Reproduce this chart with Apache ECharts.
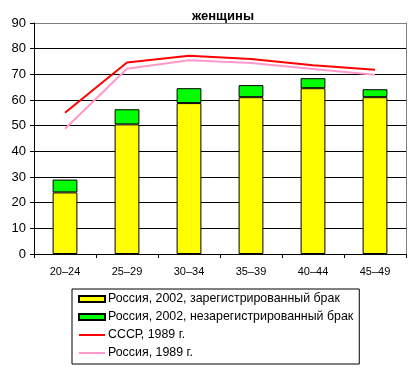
<!DOCTYPE html>
<html><head><meta charset="utf-8">
<script src="https://cdn.jsdelivr.net/npm/echarts@6/dist/echarts.min.js"></script>
<style>html,body{margin:0;padding:0;background:#fff}#c{width:420px;height:370px}</style>
</head><body><div id="c"></div>
<script>
var categories = ['20–24','25–29','30–34','35–39','40–44','45–49'];
var registered2002 = [24, 50.5, 58.8, 61.1, 64.6, 61.1];
var unregistered2002 = [5.0, 5.9, 5.8, 4.7, 3.9, 3.1];
var ussr1989 = [55, 74.6, 77.2, 76.0, 73.5, 71.8];
var russia1989 = [48.8, 72.2, 75.5, 74.4, 72.1, 69.8];
var yTicks = [0, 10, 20, 30, 40, 50, 60, 70, 80, 90];

var font = 'Liberation Sans, Arial, sans-serif';
var gridColors = yTicks.map(function (v, i) { return i === yTicks.length - 1 ? '#808080' : '#000'; });
var chart = echarts.init(document.getElementById('c'), null, {renderer: 'canvas'});
chart.setOption({
  backgroundColor: '#fff',
  animation: false,
  title: {text: 'женщины', left: 218, top: 5, textAlign: 'center',
    textStyle: {fontFamily: font, fontSize: 13, fontWeight: 'bold', color: '#000'}},
  grid: {left: 34, right: 14, top: 23, bottom: 116},
  legend: {
    orient: 'vertical', left: 72, top: 289,
    padding: [3, 6, 4, 6], itemGap: 4,
    borderColor: '#000', borderWidth: 1,
    itemWidth: 26, itemHeight: 6,
    textStyle: {fontFamily: font, fontSize: 12.4, lineHeight: 14, color: '#000', padding: [0, 0, 0, -2]},
    data: [
      {name: 'Россия, 2002, зарегистрированный брак', icon: 'rect'},
      {name: 'Россия, 2002, незарегистрированный брак', icon: 'rect'},
      {name: 'СССР, 1989 г.', itemStyle: {opacity: 0}},
      {name: 'Россия, 1989 г.', itemStyle: {opacity: 0}}
    ]
  },
  xAxis: {
    type: 'category', data: categories,
    axisLine: {lineStyle: {color: '#000', width: 1}},
    axisTick: {show: true, length: 4, lineStyle: {color: '#000'}},
    axisLabel: {fontFamily: font, fontSize: 11, color: '#000', margin: 12},
    splitLine: {show: false}
  },
  yAxis: [{
    type: 'value', min: 0, max: 90, interval: 10,
    axisLine: {show: true, lineStyle: {color: '#000'}},
    axisTick: {show: true, length: 4, lineStyle: {color: '#000'}},
    axisLabel: {fontFamily: font, fontSize: 13, color: '#000', margin: 8,
      formatter: function (v) { return yTicks.indexOf(v) >= 0 ? String(v) : ''; }},
    splitLine: {show: true, lineStyle: {color: gridColors, width: 1}}
  }, {
    type: 'value', min: 0, max: 90, interval: 10, position: 'right',
    axisLine: {show: true, lineStyle: {color: '#808080'}},
    axisTick: {show: false}, axisLabel: {show: false}, splitLine: {show: false}
  }],
  series: [
    {name: 'Россия, 2002, зарегистрированный брак', type: 'bar', stack: 's',
      data: registered2002, barWidth: '40%',
      itemStyle: {color: '#ffff00', borderColor: '#000', borderWidth: 1}},
    {name: 'Россия, 2002, незарегистрированный брак', type: 'bar', stack: 's',
      data: unregistered2002, barWidth: '40%',
      itemStyle: {color: '#00ff00', borderColor: '#000', borderWidth: 1}},
    {name: 'СССР, 1989 г.', type: 'line', data: ussr1989, symbol: 'none',
      lineStyle: {color: '#ff0000', width: 2}, itemStyle: {color: '#ff0000'}},
    {name: 'Россия, 1989 г.', type: 'line', data: russia1989, symbol: 'none',
      lineStyle: {color: '#ff99cc', width: 2}, itemStyle: {color: '#ff99cc'}}
  ]
});
</script>
</body></html>
